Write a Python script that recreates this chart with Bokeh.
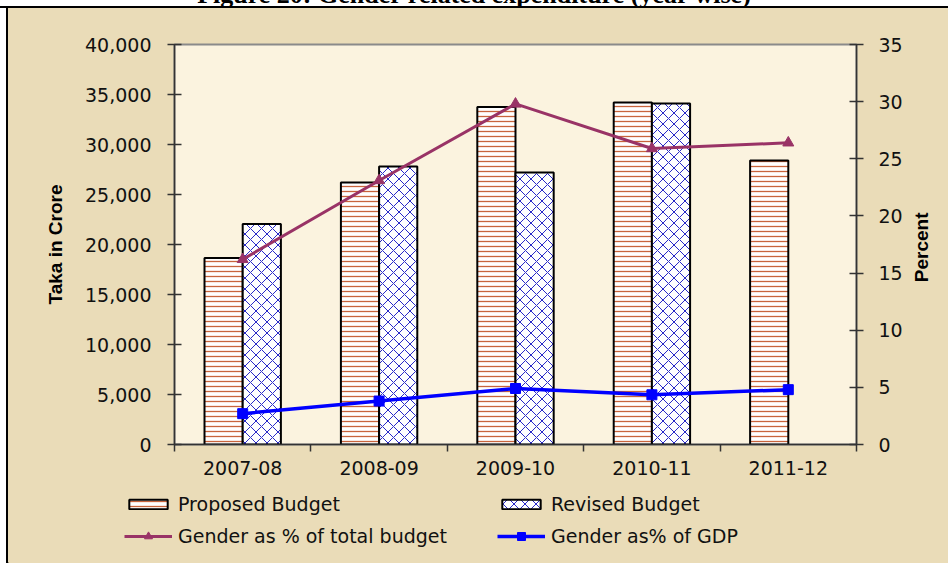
import math
from bokeh.plotting import figure
from bokeh.models import (Range1d, LinearAxis, FixedTicker, NumeralTickFormatter,
                          Legend, LegendItem, Div, ColumnDataSource)
from bokeh.layouts import column, row
from bokeh.embed import file_html
from bokeh.resources import INLINE

# ---------------- data ----------------
categories = ["2007-08", "2008-09", "2009-10", "2010-11", "2011-12"]
proposed_budget = [18650, 26200, 33750, 34200, 28400]
revised_budget = [22050, 27800, 27200, 34100, None]
pct_total_budget = [16.2, 23.1, 29.8, 25.9, 26.4]
pct_gdp = [2.7, 3.8, 4.9, 4.35, 4.8]

left_ticks = [0, 5000, 10000, 15000, 20000, 25000, 30000, 35000, 40000]
right_ticks = [0, 5, 10, 15, 20, 25, 30, 35]

series_names = ["Proposed Budget", "Revised Budget",
                "Gender as % of total budget", "Gender as% of GDP"]
left_title = "Taka in Crore"
right_title = "Percent"
title_text = "Figure 20: Gender related expenditure (year wise)"

# ---------------- styles ----------------
OUTER_BG = "#EADCB8"
FRAME_BG = "#FBF3DF"
TICK_FONT = "DejaVu Sans"
PROP_STYLE = dict(fill_color="white", line_color="black", line_width=2,
                  hatch_pattern="horizontal_line", hatch_color="#C8643C",
                  hatch_scale=5, hatch_weight=1.3)
REV_STYLE = dict(fill_color="white", line_color="black", line_width=2,
                 hatch_pattern="diagonal_cross", hatch_color="#2828C8",
                 hatch_scale=11, hatch_weight=1)
PCT_COLOR = "#993366"
GDP_COLOR = "#0000FF"

# ---------------- main figure ----------------
n = len(categories)
x_centers = [i + 0.5 for i in range(n)]
BAR_W = 0.28

p = figure(width=940, height=482, output_backend="svg", toolbar_location=None,
           x_range=Range1d(0, n), y_range=Range1d(0, 40000),
           min_border_left=166, min_border_right=92, min_border_top=36,
           min_border_bottom=46,
           background_fill_color=FRAME_BG, border_fill_color=OUTER_BG)
p.extra_y_ranges = {"pct": Range1d(0, 35)}
p.xgrid.visible = False
p.ygrid.visible = False
p.outline_line_color = "#8a8a8a"
p.outline_line_width = 2

src_p = ColumnDataSource(dict(x=[c - BAR_W / 2 for c in x_centers], top=proposed_budget))
rx = [c + BAR_W / 2 for c, v in zip(x_centers, revised_budget) if v is not None]
rt = [v for v in revised_budget if v is not None]
src_r = ColumnDataSource(dict(x=rx, top=rt))

p.vbar(x="x", top="top", bottom=0, width=BAR_W, source=src_p, **PROP_STYLE)
p.vbar(x="x", top="top", bottom=0, width=BAR_W, source=src_r, **REV_STYLE)

p.line(x_centers, pct_total_budget, y_range_name="pct", line_color=PCT_COLOR, line_width=3)
p.scatter(x_centers, pct_total_budget, y_range_name="pct", marker="triangle",
          size=11, fill_color=PCT_COLOR, line_color=PCT_COLOR)
p.line(x_centers, pct_gdp, y_range_name="pct", line_color=GDP_COLOR, line_width=3.5)
p.scatter(x_centers, pct_gdp, y_range_name="pct", marker="square",
          size=10, fill_color=GDP_COLOR, line_color=GDP_COLOR)


def style_axis(ax):
    ax.major_label_text_font = TICK_FONT
    ax.major_label_text_font_size = "19px"
    ax.major_label_text_color = "#111111"
    ax.axis_line_color = "#333333"
    ax.axis_line_width = 1.5
    ax.major_tick_line_color = "#333333"
    ax.major_tick_line_width = 1.5
    ax.minor_tick_line_color = "#333333"
    ax.minor_tick_line_width = 1.5
    ax.axis_label_text_font = "Liberation Sans"
    ax.axis_label_text_font_style = "bold"
    ax.axis_label_text_font_size = "19px"
    ax.axis_label_text_color = "#000000"


xa = p.xaxis[0]
style_axis(xa)
xa.ticker = FixedTicker(ticks=x_centers, minor_ticks=list(range(n + 1)))
xa.major_label_overrides = {c: lab for c, lab in zip(x_centers, categories)}
xa.major_tick_in = 0
xa.major_tick_out = 0
xa.minor_tick_in = 0
xa.minor_tick_out = 7
xa.major_label_standoff = 9

ya = p.yaxis[0]
style_axis(ya)
ya.ticker = FixedTicker(ticks=left_ticks)
ya.formatter = NumeralTickFormatter(format="0,0")
ya.major_tick_in = 7
ya.major_tick_out = 7
ya.minor_tick_in = 0
ya.minor_tick_out = 0
ya.major_label_standoff = 16
ya.axis_label = left_title
ya.axis_label_standoff = 16

ra = LinearAxis(y_range_name="pct", ticker=FixedTicker(ticks=right_ticks))
style_axis(ra)
ra.major_tick_in = 7
ra.major_tick_out = 7
ra.minor_tick_in = 0
ra.minor_tick_out = 0
ra.major_label_standoff = 15
p.add_layout(ra, "right")

# right-hand title, reading bottom-to-top (one label on a bare axis;
# the rotated text starts at the tick, so the tick sits below the middle)
title_anchor_pct = 14.2
rt_axis = LinearAxis(y_range_name="pct", ticker=FixedTicker(ticks=[title_anchor_pct]))
rt_axis.major_label_overrides = {title_anchor_pct: right_title}
rt_axis.major_label_orientation = math.pi / 2
rt_axis.major_label_text_font = "Liberation Sans"
rt_axis.major_label_text_font_style = "bold"
rt_axis.major_label_text_font_size = "19px"
rt_axis.major_label_text_color = "#000000"
rt_axis.axis_line_color = None
rt_axis.major_tick_line_color = None
rt_axis.minor_tick_line_color = None
rt_axis.major_tick_in = 0
rt_axis.major_tick_out = 0
rt_axis.major_label_standoff = 16
p.add_layout(rt_axis, "right")

# ---------------- legend strip (second figure) ----------------
lf = figure(width=940, height=73, output_backend="svg", toolbar_location=None,
            x_range=Range1d(0, 1), y_range=Range1d(0, 1),
            x_axis_type=None, y_axis_type=None, min_border=0,
            background_fill_color=OUTER_BG, border_fill_color=OUTER_BG)
lf.outline_line_color = None
lf.grid.visible = False
off = dict(x=[-10], top=[-10])  # legend keys only: placed outside the visible range
k_prop = lf.vbar(x="x", top="top", width=0.1, source=ColumnDataSource(off), **PROP_STYLE)
k_rev = lf.vbar(x="x", top="top", width=0.1, source=ColumnDataSource(off), **REV_STYLE)
k_l1 = lf.line(x=[-10, -9], y=[-10, -10], line_color=PCT_COLOR, line_width=3)
k_s1 = lf.scatter(x=[-10], y=[-10], marker="triangle", size=11, fill_color=PCT_COLOR, line_color=PCT_COLOR)
k_l2 = lf.line(x=[-10, -9], y=[-10, -10], line_color=GDP_COLOR, line_width=3.5)
k_s2 = lf.scatter(x=[-10], y=[-10], marker="square", size=10, fill_color=GDP_COLOR, line_color=GDP_COLOR)


def make_legend(items, loc, glyph_h):
    return Legend(items=items, orientation="horizontal", location=loc,
                  glyph_width=48, glyph_height=glyph_h, label_height=20,
                  label_text_font=TICK_FONT, label_text_font_size="19px",
                  label_text_color="#111111", label_standoff=6, label_width=319,
                  spacing=0, padding=0, margin=0,
                  border_line_alpha=0, background_fill_alpha=0)


leg1 = make_legend([LegendItem(label=series_names[0], renderers=[k_prop]),
                    LegendItem(label=series_names[1], renderers=[k_rev])], (116, 48), 12)
leg2 = make_legend([LegendItem(label=series_names[2], renderers=[k_l1, k_s1]),
                    LegendItem(label=series_names[3], renderers=[k_l2, k_s2])], (116, 16), 20)
lf.add_layout(leg1)
lf.add_layout(leg2)

# ---------------- title strip (cut at top) and left strips ----------------
title_div = Div(
    text=('<div style="font-family:\'Liberation Serif\';font-weight:bold;font-size:26px;'
          'line-height:26px;white-space:nowrap;text-align:center;width:948px;'
          'position:relative;top:-18px;color:#000">' + title_text + '</div>'),
    width=948, height=8, margin=0,
    styles={"overflow": "hidden",
            "background": "linear-gradient(to bottom, #ffffff 6px, #000000 6px)"})
STRIP = {"background": "linear-gradient(to right, #ffffff 6px, #000000 6px)"}
left_div1 = Div(text="", width=8, height=482, margin=0, styles=STRIP)
left_div2 = Div(text="", width=8, height=73, margin=0, styles=STRIP)

layout = column(title_div,
                row(left_div1, p, spacing=0, styles={"background": OUTER_BG}),
                row(left_div2, lf, spacing=0, styles={"background": OUTER_BG}),
                spacing=0, styles={"background": OUTER_BG})

open("out.html", "w").write(file_html(layout, INLINE))
